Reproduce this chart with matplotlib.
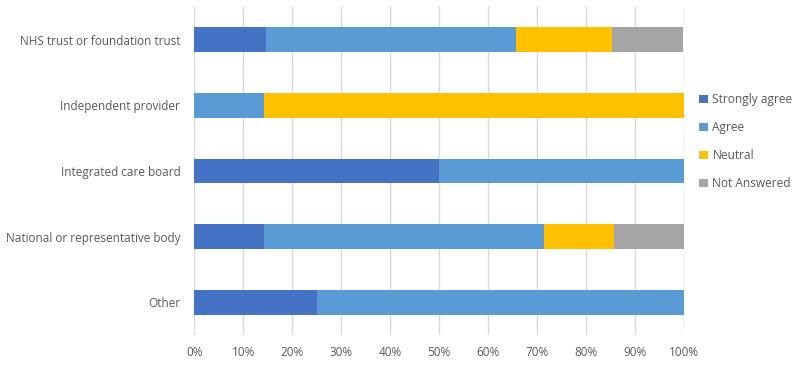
import matplotlib.pyplot as plt
import numpy as np

plt.rcParams['font.family'] = ['Open Sans', 'DejaVu Sans']

categories = ["NHS trust or foundation trust", "Independent provider", "Integrated care board",
              "National or representative body", "Other"]
series = ["Strongly agree", "Agree", "Neutral", "Not Answered"]
strongly_agree = [14.6, 0.0, 50.0, 14.3, 25.0]
agree = [51.2, 14.3, 50.0, 57.1, 75.0]
neutral = [19.5, 85.7, 0.0, 14.3, 0.0]
not_answered = [14.6, 0.0, 0.0, 14.3, 0.0]
colors = ["#4472C4", "#5B9BD5", "#FFC000", "#A5A5A5"]

fig = plt.figure(figsize=(8.09, 3.71), dpi=100)
ax = fig.add_axes([0.24, 0.097, 0.605, 0.884])

y = np.arange(len(categories))
left = np.zeros(len(categories))
for name, vals, c in zip(series, [strongly_agree, agree, neutral, not_answered], colors):
    ax.barh(y, vals, left=left, height=0.38, color=c, label=name, zorder=3)
    left += np.array(vals)

ax.set_xlim(0, 100)
ax.set_ylim(4.5, -0.5)
ax.set_yticks(y)
ax.set_yticklabels(categories)
ax.set_xticks(np.arange(0, 101, 10))
ax.set_xticklabels([f"{v}%" for v in range(0, 101, 10)])
ax.tick_params(axis="y", length=0, labelsize=8.5, colors="#595959", pad=10)
ax.tick_params(axis="x", length=0, labelsize=8.5, colors="#595959", pad=8)
ax.grid(axis="x", color="#D9D9D9", linewidth=1, zorder=0)
for s in ax.spines.values():
    s.set_visible(False)

ax.legend(loc="center left", bbox_to_anchor=(1.01, 0.59), frameon=False, fontsize=8.6,
          labelcolor="#595959", handlelength=0.7, handleheight=0.7, handletextpad=0.4,
          labelspacing=1.25)

fig.savefig("out.png", dpi=100)
